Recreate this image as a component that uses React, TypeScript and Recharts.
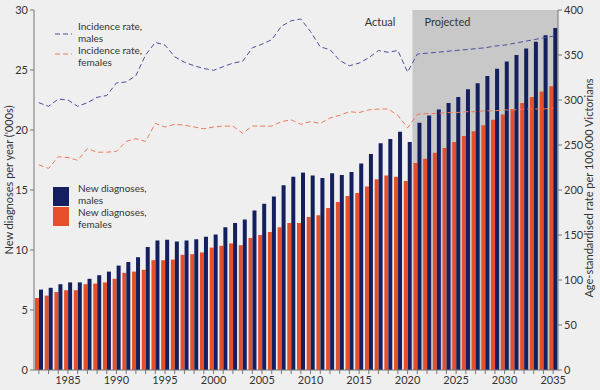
import React from 'react';
import { ComposedChart, Bar, Line, XAxis, YAxis, ReferenceArea, Customized } from 'recharts';

const years = [1982,1983,1984,1985,1986,1987,1988,1989,1990,1991,1992,1993,1994,1995,1996,1997,1998,1999,2000,2001,2002,2003,2004,2005,2006,2007,2008,2009,2010,2011,2012,2013,2014,2015,2016,2017,2018,2019,2020,2021,2022,2023,2024,2025,2026,2027,2028,2029,2030,2031,2032,2033,2034,2035];

const newMales = [6.7,6.85,7.15,7.3,7.3,7.6,7.9,8.2,8.7,9.0,9.4,10.25,10.8,10.85,10.7,10.8,10.9,11.1,11.3,11.9,12.25,12.55,13.3,13.85,14.45,15.4,16.1,16.45,16.2,16.0,16.4,16.25,16.5,17.2,18.0,18.9,19.25,19.85,19.0,20.6,21.2,21.7,22.25,22.75,23.4,23.9,24.5,25.1,25.7,26.25,26.8,27.35,27.9,28.5];

const newFemales = [6.0,6.2,6.5,6.65,6.65,7.15,7.2,7.3,7.6,8.1,8.2,8.35,9.15,9.15,9.2,9.6,9.65,9.8,10.2,10.35,10.55,10.4,11.0,11.25,11.5,11.9,12.25,12.25,12.75,12.9,13.5,14.0,14.5,14.75,15.3,15.9,16.2,16.1,15.75,17.25,17.6,18.1,18.5,19.0,19.5,19.9,20.4,20.85,21.3,21.75,22.25,22.75,23.2,23.65];

const rateMales = [297,293,301,300,293,297,303,305,319,320,327,350,364,361,348,342,338,335,333,337,341,343,358,362,367,382,388,390,376,359,356,344,338,341,347,355,353,355,331,351,352,353,354,355,356,357,358,360,361,363,365,367,369,371];

const rateFemales = [228,224,237,236,233,246,242,242,243,254,257,254,274,270,273,272,270,268,270,271,271,263,271,271,271,276,278,273,276,274,280,283,287,286,289,290,290,283,269,284,285,285,286,286,287,287,288,288,289,289,290,290,290,291];

const leftTicks = [0,5,10,15,20,25,30];
const rightTicks = [0,50,100,150,200,250,300,350,400];
const projectedStart = 2021;
const projectedEnd = 2035;

const data = years.map((y, i) => ({
  year: y,
  males: newMales[i],
  females: newFemales[i],
  rateM: rateMales[i],
  rateF: rateFemales[i],
}));

const NAVY = '#131f5e';
const ORANGE = '#e5502b';
const LINE_M = '#4d4d9e';
const LINE_F = '#ee7a5a';
const TXT = '#333333';
const FONT = 'Lato, "Open Sans", sans-serif';

const Overlay = () => (
  <g fontFamily={FONT} fill={TXT} fontSize={11}>
    <g fontSize={10}>
      <line x1={55} y1={34} x2={72} y2={34} stroke={LINE_M} strokeWidth={1} strokeDasharray="5 3" />
      <text x={78} y={30}>Incidence rate,</text>
      <text x={78} y={42}>males</text>
      <line x1={55} y1={54} x2={72} y2={54} stroke={LINE_F} strokeWidth={1} strokeDasharray="5 3" />
      <text x={78} y={54}>Incidence rate,</text>
      <text x={78} y={66}>females</text>
      <rect x={53} y={187} width={16} height={19} fill={NAVY} />
      <rect x={53} y={207} width={16} height={19} fill={ORANGE} />
      <text x={78} y={192}>New diagnoses,</text>
      <text x={78} y={204}>males</text>
      <text x={78} y={216}>New diagnoses,</text>
      <text x={78} y={228}>females</text>
    </g>
    <text x={380} y={26} textAnchor="middle">Actual</text>
    <text transform="translate(13,180) rotate(-90)" textAnchor="middle">New diagnoses per year ('000s)</text>
    <text transform="translate(593,188) rotate(-90)" textAnchor="middle">Age-standardised rate per 100,000 Victorians</text>
  </g>
);

const ProjectedLabel = (props: any) => {
  const vb = props.viewBox || { x: 0, y: 0 };
  return (
    <text x={vb.x + 35} y={vb.y + 16} textAnchor="middle" fontFamily={FONT} fontSize={11} fill={TXT}>
      Projected
    </text>
  );
};

export default function App() {
  return (
    <div style={{ position: 'absolute', left: 0, top: 0, width: 600, height: 390, background: '#efefef' }}>
      <ComposedChart
        width={600}
        height={390}
        data={data}
        margin={{ top: 10, right: 10, bottom: 0, left: 10 }}
        barCategoryGap={1}
        barGap={0}
      >
        <ReferenceArea
          x1={projectedStart}
          x2={projectedEnd}
          yAxisId="left"
          fill="#c8c8c8"
          fillOpacity={1}
          stroke="none"
          label={ProjectedLabel}
        />
        <XAxis
          dataKey="year"
          interval={0}
          tickSize={4}
          tickMargin={2}
          height={20}
          tickFormatter={(v: number) => (v % 5 === 0 ? String(v) : '')}
          tick={{ fill: TXT, fontSize: 11, fontFamily: FONT }}
          stroke="#777"
        />
        <YAxis
          yAxisId="left"
          domain={[0, 30]}
          ticks={leftTicks}
          width={24}
          tickSize={4}
          tickMargin={2}
          tick={{ fill: TXT, fontSize: 11, fontFamily: FONT }}
          stroke="#777"
        />
        <YAxis
          yAxisId="right"
          orientation="right"
          domain={[0, 400]}
          ticks={rightTicks}
          width={32}
          tickSize={4}
          tickMargin={2}
          tick={{ fill: TXT, fontSize: 11, fontFamily: FONT }}
          stroke="#777"
        />
        <Bar yAxisId="left" dataKey="females" fill={ORANGE} isAnimationActive={false} />
        <Bar yAxisId="left" dataKey="males" fill={NAVY} isAnimationActive={false} />
        <Line yAxisId="right" dataKey="rateM" stroke={LINE_M} strokeWidth={1} strokeDasharray="5 3" dot={false} activeDot={false} isAnimationActive={false} type="linear" />
        <Line yAxisId="right" dataKey="rateF" stroke={LINE_F} strokeWidth={1} strokeDasharray="5 3" dot={false} activeDot={false} isAnimationActive={false} type="linear" />
        <Customized component={Overlay} />
      </ComposedChart>
    </div>
  );
}
